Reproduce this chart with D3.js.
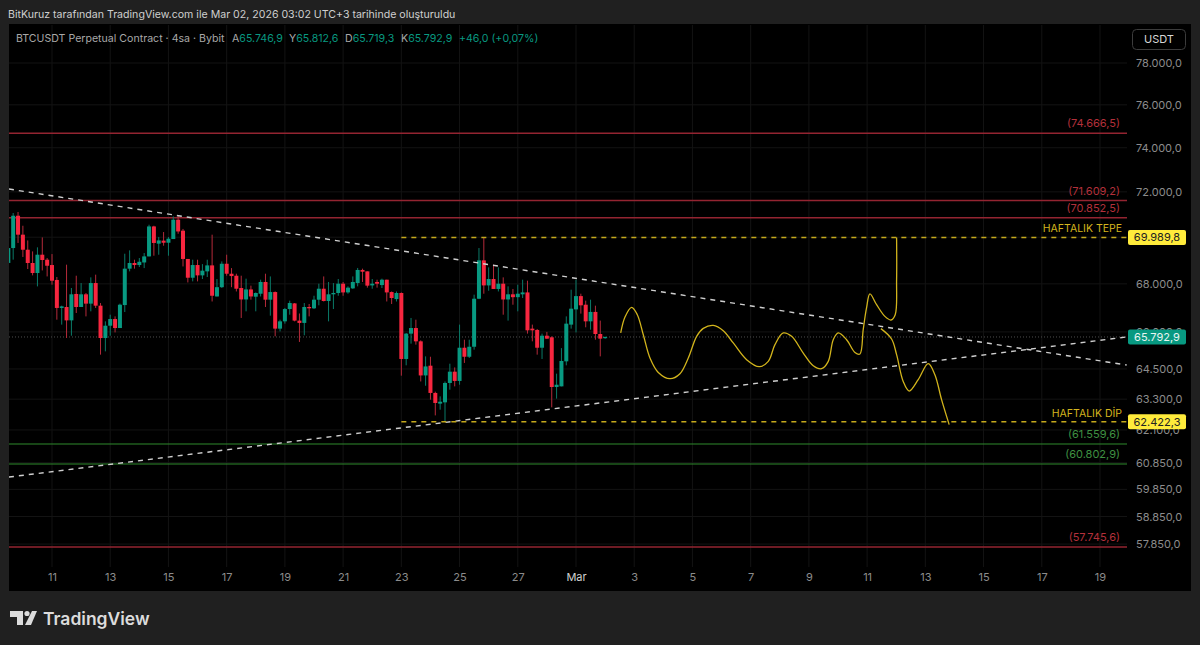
<!DOCTYPE html>
<html>
<head>
<meta charset="utf-8">
<script src="https://cdnjs.cloudflare.com/ajax/libs/d3/7.8.5/d3.min.js"></script>
<style>
  html, body { margin: 0; padding: 0; background: #202020; overflow: hidden; }
  text { font-family: Inter, "Liberation Sans", sans-serif; }
</style>
</head>
<body>
<div id="chart"></div>
<script>
// 4h candles, first one at Feb 9 12:00 UTC
const opens = [68890,69530,70940,70110,69458,68887,68460,69243,69028,68800,68165,66990,67030,66475,67575,67030,67560,67170,68035,67085,65750,66255,66530,66160,67110,68645,68887,68800,68910,69170,70470,69720,69850,69760,69920,70765,70285,69060,68260,68800,68360,68530,68785,67470,67860,68855,68430,68345,67825,67345,67765,67460,67585,68080,67335,67655,66135,66435,66945,67180,66465,66370,67030,66975,67335,67795,67280,67560,67615,68007,67640,67810,68035,68590,68530,67935,68080,67950,68176,67655,67360,67615,64900,65930,66160,65615,64240,64630,63545,63125,63175,63940,64390,64020,65355,64990,65395,67375,69000,67935,68205,67785,68007,67345,67560,67440,67560,67640,66135,66080,65355,65845,65780,63780,63805,64805,66300,66930,67485,67125,66435,66825,65915,65746.9];
const highs = [69530,71060,71105,70500,69860,69385,69560,69990,69100,69270,68290,67085,68815,67825,68345,68035,67615,68275,68390,67195,66435,66710,66640,67170,69285,69430,69028,69100,69315,70545,70500,70010,70225,70010,70910,70940,70360,69060,69028,69028,68840,69028,70110,68205,68955,69243,68670,68430,68345,68220,67925,67640,68176,68430,68315,67680,66504,66990,67295,67195,66760,67195,67155,67500,68007,68315,68080,68035,68205,68080,67895,68315,68675,68645,68530,68205,68176,68220,68176,67680,67680,67640,65955,66575,66504,65655,65005,64990,63595,63410,64000,64710,64560,66300,65682,65682,67545,69530,69990,68700,68815,68700,68275,67895,67785,67965,68176,68134,66300,66120,65930,66000,65820,64310,65340,66640,67754,68176,67585,67295,67335,67085,66465,65812.6];
const lows = [68890,69030,69750,69145,68630,68360,67893,68570,68315,67965,66504,66300,65750,65845,66780,67030,66640,66850,66990,65075,65208,65845,65980,66160,66820,68530,68645,68715,68670,69170,69200,69243,69630,69200,69920,70150,68740,68060,68105,68105,68205,68290,67260,67470,67825,68345,67860,67680,66575,66850,67335,66850,67470,67030,66670,65820,66020,66340,66710,66435,65590,65860,66640,66945,67100,67260,66435,66945,67500,67500,67585,67785,67895,68080,67840,67795,67840,67825,67260,67155,67260,64230,64645,65520,65480,64000,63830,63280,62665,62888,62422,63674,63805,63870,64740,64940,65276,67360,67585,67710,67785,67680,66710,66465,67125,66850,67405,65930,65615,65075,64900,65710,62980,63320,63805,64645,66135,65980,66755,66190,66092,65682,65005,65719.3];
const closes = [69530,70940,70110,69458,68887,68460,69243,69015,68770,68134,66990,67055,66475,67560,67030,67560,67170,68035,67085,65750,66255,66530,66160,67125,68645,68887,68800,68940,69170,70470,69750,69860,69760,69935,70765,70250,69060,68260,68800,68360,68560,68785,67500,67860,68855,68430,68330,67795,67345,67765,67470,67615,68080,67335,67655,66135,66435,66945,67195,66465,66370,67030,66975,67335,67795,67280,67560,67615,68007,67640,67840,68080,68590,68515,67925,68007,68007,68176,67640,67405,67615,64900,65930,66160,65615,64240,64600,63545,63150,63200,63940,64390,64020,65355,64990,65395,67375,69000,67935,68205,67785,68007,67345,67560,67440,67585,67640,66065,66065,65355,65845,65725,63780,63870,64820,66340,66960,67485,67100,66435,66825,65915,65725,65792.9];

const dayTicks = ["2026-02-11","2026-02-13","2026-02-15","2026-02-17","2026-02-19","2026-02-21","2026-02-23","2026-02-25","2026-02-27","2026-03-01","2026-03-03","2026-03-05","2026-03-07","2026-03-09","2026-03-11","2026-03-13","2026-03-15","2026-03-17","2026-03-19"];
const priceTicks = [78000,76000,74000,72000,70000,68000,66000,64500,63300,62100,60850,59850,58850,57850];

const levelPrices = [74666.5,71609.2,70852.5,61559.6,60802.9,57745.6];
const levelIsGreen = [false,false,false,true,true,false];

const lastPrice = 65792.9;
const weekHigh = 69989.8;
const weekLow = 62422.3;
const weekLevelStart = "2026-02-23";

// trend lines: [date, price]
const trendDown = [["2026-02-09T12:30Z",72127],["2026-03-19T22:00Z",64656]];
const trendUp = [["2026-02-09T12:30Z",60310],["2026-03-19T22:00Z",65793]];

// hand drawn projection, days after Mar 1 and price
const sketchDaysA = [1.535,1.683,1.912,2.106,2.312,2.541,2.827,3.228,3.571,3.857,4.144,4.373,4.716,5.059,5.402,5.861,6.296,6.605,6.834,7.12,7.407,7.807,8.15,8.437,8.666,8.837,9.009,9.296,9.581,9.753,9.866,9.98,10.096,10.326,10.611,10.817,10.965,11.013,11.013];
const sketchPricesA = [65957,66615,67015,66710,65885,64940,64360,64110,64310,64940,65820,66145,66270,66050,65550,64872,64590,64805,65480,65957,65820,65140,64630,64510,64805,65682,65957,65682,65165,65100,66092,66990,67575,67125,66640,66490,66710,68176,69990];
const sketchDaysB = [10.474,10.841,11.013,11.24,11.446,11.755,12.099,12.328,12.558,12.819];
const sketchPricesB = [66135,65710,65075,64000,63620,64071,64710,64270,63280,62305];

const W = 1200, H = 645;
const plotL = 9, plotR = 1127, plotT = 25, gridB = 567;
const up = "#089981", down = "#f7263f", yellow = "#c4a81c";

const svg = d3.select("#chart").append("svg").attr("width", W).attr("height", H).style("display", "block");

const x = d3.scaleUtc()
  .domain([new Date("2026-02-11T00:00Z"), new Date("2026-03-19T00:00Z")])
  .range([52, 1100]);
const y = d3.scaleLog().domain([78000, 57745.6]).range([63, 547]);

const tr = d3.formatLocale({ decimal: ",", thousands: ".", grouping: [3], currency: ["", ""] });
const fmt = tr.format(",.1f");
const fmtGap = v => "(" + fmt(v) + ")";

const barDate = i => new Date(Date.UTC(2026, 1, 9, 12 + i * 4));
const sketchDate = d => new Date(Date.UTC(2026, 2, 1) + d * 864e5);

// page parts
svg.append("rect").attr("width", W).attr("height", H).attr("fill", "#202020");
svg.append("rect").attr("x", plotL).attr("y", 24).attr("width", 1182).attr("height", 567).attr("fill", "#000");

svg.append("defs").append("clipPath").attr("id", "plot")
  .append("rect").attr("x", plotL).attr("y", 24).attr("width", plotR - plotL).attr("height", 567);

// grid
const dates = dayTicks.map(d => new Date(d + "T00:00Z"));
svg.append("g").attr("class", "xgrid")
  .selectAll("line").data(dates).enter().append("line")
  .attr("x1", d => x(d)).attr("x2", d => x(d))
  .attr("y1", plotT).attr("y2", gridB)
  .attr("stroke", "#131313");
svg.append("g").attr("class", "ygrid")
  .selectAll("line").data(priceTicks).enter().append("line")
  .attr("x1", plotL).attr("x2", plotR)
  .attr("y1", d => y(d)).attr("y2", d => y(d))
  .attr("stroke", "#131313");

const plot = svg.append("g").attr("clip-path", "url(#plot)");

// last price dotted line
plot.append("line")
  .attr("x1", plotL).attr("x2", plotR)
  .attr("y1", y(lastPrice)).attr("y2", y(lastPrice))
  .attr("stroke", "#4e4e4e").attr("stroke-dasharray", "1 2");

// horizontal levels
plot.selectAll(".level").data(levelPrices).enter().append("line")
  .attr("class", "level")
  .attr("x1", plotL).attr("x2", plotR)
  .attr("y1", d => y(d)).attr("y2", d => y(d))
  .attr("stroke", (d, i) => levelIsGreen[i] ? "#2f8a2c" : "#932431")
  .attr("stroke-width", (d, i) => levelIsGreen[i] ? 1.1 : 1.5);

// candles
const bars = opens.map((o, i) => i);
plot.selectAll(".wick").data(bars).enter().append("line")
  .attr("class", "wick")
  .attr("x1", i => x(barDate(i))).attr("x2", i => x(barDate(i)))
  .attr("y1", i => y(highs[i])).attr("y2", i => y(lows[i]))
  .attr("stroke", i => closes[i] >= opens[i] ? "#0a7a68" : "#b52a3a")
  .attr("stroke-width", 1);
plot.selectAll(".body").data(bars).enter().append("rect")
  .attr("class", "body")
  .attr("x", i => x(barDate(i)) - 2)
  .attr("width", 4)
  .attr("y", i => y(Math.max(opens[i], closes[i])))
  .attr("height", i => Math.max(1.2, Math.abs(y(opens[i]) - y(closes[i]))))
  .attr("fill", i => closes[i] >= opens[i] ? up : down);

// trend lines
const trendLine = d3.line().x(d => x(new Date(d[0]))).y(d => y(d[1]));
[trendDown, trendUp].forEach(t => {
  plot.append("path").attr("d", trendLine(t))
    .attr("fill", "none").attr("stroke", "#cfcfcf")
    .attr("stroke-width", 1.4).attr("stroke-dasharray", "5 5");
});

// weekly high / low dashed levels
[weekHigh, weekLow].forEach(p => {
  plot.append("line")
    .attr("x1", x(new Date(weekLevelStart + "T00:00Z"))).attr("x2", plotR)
    .attr("y1", y(p)).attr("y2", y(p))
    .attr("stroke", yellow).attr("stroke-width", 1.5).attr("stroke-dasharray", "5 5");
});

// yellow sketch
const sketchLine = d3.line().x(d => x(sketchDate(d[0]))).y(d => y(d[1])).curve(d3.curveCatmullRom.alpha(0.5));
[[sketchDaysA, sketchPricesA], [sketchDaysB, sketchPricesB]].forEach(s => {
  plot.append("path").attr("d", sketchLine(d3.zip(s[0], s[1])))
    .attr("fill", "none").attr("stroke", "#d2b41c").attr("stroke-width", 1.3);
});

// level labels
svg.selectAll(".levelLabel").data(levelPrices).enter().append("text")
  .attr("class", "levelLabel")
  .attr("x", 1120).attr("y", d => y(d) - 6)
  .attr("text-anchor", "end").attr("font-size", 11)
  .attr("fill", (d, i) => levelIsGreen[i] ? "#3f9142" : "#b3303b")
  .text(fmtGap);

svg.append("text").attr("x", 1122).attr("y", y(weekHigh) - 5).attr("text-anchor", "end")
  .attr("font-size", 10.5).attr("fill", "#d4b51e").text("HAFTALIK TEPE");
svg.append("text").attr("x", 1122).attr("y", y(weekLow) - 5).attr("text-anchor", "end")
  .attr("font-size", 10.5).attr("fill", "#d4b51e").text("HAFTALIK DİP");

// axes
const yAxis = d3.axisRight(y).tickValues(priceTicks).tickFormat(fmt).tickSize(0).tickPadding(0);
const gy = svg.append("g").attr("transform", "translate(1136,0)").call(yAxis);
gy.select(".domain").remove();
gy.selectAll("text").attr("fill", "#8c8c8c").attr("font-size", 11).style("font-family", "Inter, 'Liberation Sans', sans-serif");

const xAxis = d3.axisBottom(x).tickValues(dates).tickSize(0).tickPadding(0)
  .tickFormat(d => d.getUTCDate() === 1 ? "Mar" : d.getUTCDate());
const gx = svg.append("g").attr("transform", "translate(0,573)").call(xAxis);
gx.select(".domain").remove();
gx.selectAll("text")
  .attr("fill", d => d.getUTCDate() === 1 ? "#d0d0d0" : "#8c8c8c")
  .attr("font-size", 11).style("font-family", "Inter, 'Liberation Sans', sans-serif");

// price boxes
const boxes = [[weekHigh, "#ffeb3b", "#222"], [lastPrice, up, "#e8f5f2"], [weekLow, "#ffeb3b", "#222"]];
boxes.forEach(b => {
  svg.append("rect").attr("x", 1128).attr("y", y(b[0]) - 7.5).attr("width", 58).attr("height", 15)
    .attr("rx", 2).attr("fill", b[1]);
  svg.append("text").attr("x", 1157).attr("y", y(b[0]) + 4).attr("text-anchor", "middle")
    .attr("font-size", 11).attr("fill", b[2]).text(fmt(b[0]));
});

// USDT button
svg.append("rect").attr("x", 1132.5).attr("y", 29.5).attr("width", 53).attr("height", 20)
  .attr("rx", 4).attr("fill", "#000").attr("stroke", "#3c3c3c");
svg.append("text").attr("x", 1159).attr("y", 43).attr("text-anchor", "middle")
  .attr("font-size", 11).attr("fill", "#d6d6d6").text("USDT");

// header
svg.append("text").attr("x", 8).attr("y", 18).attr("font-size", 10.6).attr("fill", "#cfcfcf")
  .text("BitKuruz tarafından TradingView.com ile Mar 02, 2026 03:02 UTC+3 tarihinde oluşturuldu");
svg.append("text").attr("x", 16).attr("y", 42).attr("font-size", 10.6).attr("fill", "#a8a8a8")
  .text("BTCUSDT Perpetual Contract · 4sa · Bybit");

const legend = [["A", opens[123], 232], ["Y", highs[123], 289], ["D", lows[123], 345], ["K", closes[123], 401]];
legend.forEach(l => {
  const t = svg.append("text").attr("x", l[2]).attr("y", 42).attr("font-size", 10.6);
  t.append("tspan").attr("fill", "#a8a8a8").text(l[0]);
  t.append("tspan").attr("fill", up).text(fmt(l[1]));
});
svg.append("text").attr("x", 459).attr("y", 42).attr("font-size", 10.6).attr("fill", up).text("+46,0 (+0,07%)");

// footer logo
const logo = svg.append("g").attr("fill", "#dcdcdc");
logo.append("path").attr("d", "M10 611H23V625H17V617H10Z");
logo.append("circle").attr("cx", 27).attr("cy", 613.5).attr("r", 2.6);
logo.append("path").attr("d", "M32 611H37L31 625H25Z");
svg.append("text").attr("x", 43).attr("y", 625).attr("font-size", 17.5).attr("font-weight", 600)
  .attr("fill", "#dcdcdc").text("TradingView");
</script>
</body>
</html>
